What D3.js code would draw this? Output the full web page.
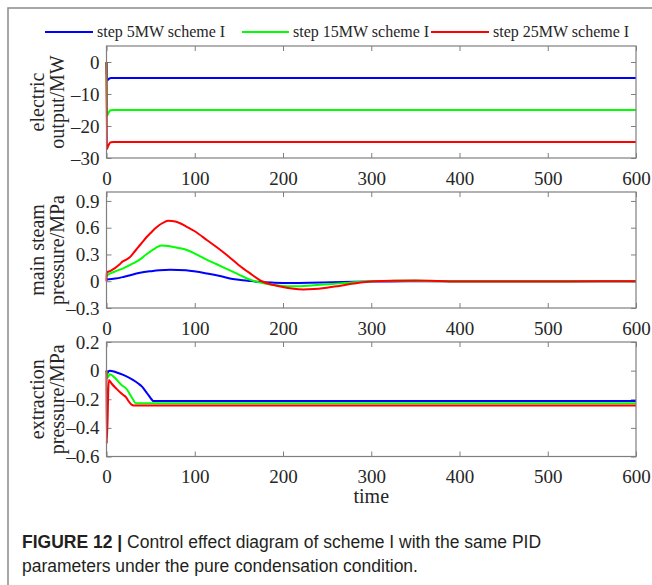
<!DOCTYPE html>
<html>
<head>
<meta charset="utf-8">
<script src="https://cdn.jsdelivr.net/npm/d3@7"></script>
<style>
  body { margin: 0; background: #fff; }
  svg { display: block; }
</style>
</head>
<body>
<script>
// values, [time, value]
var seriesNames = ['step 5MW scheme I', 'step 15MW scheme I', 'step 25MW scheme I'];
var timeTicks = [0, 100, 200, 300, 400, 500, 600];

// electric output / MW
var elecTicks = [-30, -20, -10, 0];
var elec5 = [[0, 0], [0.5, -5.8], [1.5, -5.6], [3, -5.2], [5, -5.0], [600, -5.0]];
var elec15 = [[0, 0], [0.5, -16.8], [1.5, -16.3], [3, -15.5], [5, -15.1], [8, -15], [600, -15]];
var elec25 = [[0, 0], [0.5, -27.2], [1.5, -26.5], [3, -25.6], [5, -25.1], [8, -25], [600, -25]];

// main steam pressure / MPa
var steamTicks = [-0.3, 0, 0.3, 0.6, 0.9];
var steam5 = [[0, 0.02], [10, 0.03], [20, 0.05], [38, 0.094], [50, 0.112], [60, 0.124], [72, 0.13],
  [90, 0.122], [114, 0.086], [130, 0.055], [143, 0.026], [160, 0.006], [171, -0.007], [190, -0.016],
  [209, -0.019], [230, -0.017], [256, -0.011], [280, -0.007], [303, -0.004], [340, 0], [600, 0]];
var steam15 = [[0, 0.06], [2, 0.075], [10, 0.11], [20, 0.15], [30, 0.2], [38, 0.245], [45, 0.3],
  [50, 0.335], [56, 0.375], [62, 0.4], [70, 0.395], [80, 0.375], [91, 0.35], [100, 0.31], [114, 0.24],
  [125, 0.19], [138, 0.13], [150, 0.075], [162, 0.02], [172, -0.01], [185, -0.037], [197, -0.05],
  [209, -0.056], [220, -0.055], [232, -0.048], [256, -0.03], [270, -0.02], [289, -0.007], [310, 0.002],
  [327, 0.006], [350, 0.004], [380, 0], [600, 0]];
var steam25 = [[0, 0], [0.3, 0.1], [3, 0.11], [5, 0.12], [10, 0.15], [15, 0.19], [18, 0.22], [22, 0.24],
  [26, 0.265], [30, 0.31], [35, 0.37], [40, 0.43], [45, 0.49], [50, 0.54], [55, 0.59], [60, 0.63],
  [65, 0.66], [70, 0.677], [78, 0.67], [91, 0.61], [100, 0.56], [114, 0.46], [125, 0.38], [138, 0.28],
  [150, 0.18], [162, 0.093], [176, 0], [188, -0.04], [199, -0.063], [210, -0.082], [223, -0.093],
  [235, -0.088], [247, -0.076], [262, -0.055], [280, -0.026], [303, 0], [325, 0.006], [350, 0.007],
  [375, 0.003], [398, -0.004], [450, -0.004], [520, -0.002], [600, 0]];

// extraction pressure / MPa
var extrTicks = [-0.6, -0.4, -0.2, 0, 0.2];
var extr5 = [[0, 0], [1, -0.02], [2, -0.007], [4, 0], [10, -0.01], [19, -0.03], [30, -0.065],
  [36, -0.09], [40, -0.11], [45, -0.15], [48, -0.175], [51, -0.2], [53, -0.213], [600, -0.213]];
var extr15 = [[0, 0], [1, -0.05], [3.8, -0.025], [9.5, -0.05], [17, -0.1], [23, -0.13], [26.5, -0.165],
  [30, -0.2], [33, -0.228], [600, -0.228]];
var extr25 = [[0, 0], [0.3, -0.51], [2.6, -0.065], [5.7, -0.09], [11, -0.125], [16, -0.155], [19, -0.17],
  [22, -0.185], [24.6, -0.21], [28.4, -0.238], [31, -0.244], [600, -0.244]];

var colors = ['#0000ff', '#00ff00', '#ff0000'];

var width = 652;
var height = 585;
var axisGray = '#7f7f7f';
var textColor = '#262626';
var serif = '"Liberation Serif", "Times New Roman", serif';

// the exported figure draws negatives with a dash wider than a hyphen
function tickText(d) {
  return String(d).replace('-', '\u2013');
}

var svg = d3.select('body').append('svg')
  .attr('width', width)
  .attr('height', height);

svg.append('rect').attr('width', width).attr('height', height).attr('fill', '#fff');

// frame of the figure page
svg.append('path')
  .attr('d', 'M8,' + height + 'V8H' + width)
  .attr('fill', 'none')
  .attr('stroke', '#8a8a8a')
  .attr('stroke-width', 1.5);

var x = d3.scaleLinear().domain([0, 600]).range([106.5, 636]);

var panels = [
  { top: 46, bottom: 158, domain: [-30, 5], ticks: elecTicks, label: ['electric', 'output/MW'],
    series: [elec5, elec15, elec25], xLabelY: 27 },
  { top: 192, bottom: 308, domain: [-0.3, 1.0], ticks: steamTicks, label: ['main steam', 'pressure/MPa'],
    series: [steam5, steam15, steam25], xLabelY: 27 },
  { top: 342, bottom: 456.5, domain: [-0.6, 0.2], ticks: extrTicks, label: ['extraction', 'pressure/MPa'],
    series: [extr5, extr15, extr25], xLabelY: 26 }
];

function styleAxis(g) {
  g.select('.domain').remove();
  g.selectAll('.tick line').attr('stroke', axisGray).attr('stroke-width', 1);
  g.selectAll('.tick text')
    .attr('fill', textColor)
    .style('font-family', serif)
    .style('font-size', '19px');
}

panels.forEach(function (p) {
  var y = d3.scaleLinear().domain(p.domain).range([p.bottom, p.top]);
  var g = svg.append('g');

  g.append('g')
    .attr('transform', 'translate(' + x.range()[0] + ',0)')
    .call(d3.axisLeft(y).tickValues(p.ticks).tickSize(-5).tickPadding(7).tickFormat(tickText))
    .call(styleAxis);

  g.append('g')
    .attr('transform', 'translate(' + x.range()[1] + ',0)')
    .call(d3.axisRight(y).tickValues(p.ticks).tickSize(-5).tickFormat(''))
    .call(styleAxis);

  g.append('g')
    .attr('transform', 'translate(0,' + p.bottom + ')')
    .call(d3.axisBottom(x).tickValues(timeTicks).tickSize(-5).tickPadding(p.xLabelY - 13)
      .tickFormat(d3.format('d')))
    .call(styleAxis);

  g.append('g')
    .attr('transform', 'translate(0,' + p.top + ')')
    .call(d3.axisTop(x).tickValues(timeTicks).tickSize(-5).tickFormat(''))
    .call(styleAxis);

  var line = d3.line()
    .x(function (d) { return x(d[0]); })
    .y(function (d) { return y(d[1]); })
    .curve(d3.curveMonotoneX);

  p.series.forEach(function (s, i) {
    g.append('path')
      .datum(s)
      .attr('d', line)
      .attr('fill', 'none')
      .attr('stroke', colors[i])
      .attr('stroke-width', 2)
      .attr('stroke-linejoin', 'round');
  });

  g.append('rect')
    .attr('x', x.range()[0])
    .attr('y', p.top)
    .attr('width', x.range()[1] - x.range()[0])
    .attr('height', p.bottom - p.top)
    .attr('fill', 'none')
    .attr('stroke', axisGray)
    .attr('stroke-width', 1.2);

  var midY = (p.top + p.bottom) / 2;
  p.label.forEach(function (txt, i) {
    g.append('text')
      .attr('transform', 'translate(' + (44 + i * 20) + ',' + midY + ') rotate(-90)')
      .attr('text-anchor', 'middle')
      .attr('fill', textColor)
      .style('font-family', serif)
      .style('font-size', '20px')
      .text(txt);
  });
});

svg.append('text')
  .attr('x', (x.range()[0] + x.range()[1]) / 2)
  .attr('y', 503)
  .attr('text-anchor', 'middle')
  .attr('fill', textColor)
  .style('font-family', serif)
  .style('font-size', '20px')
  .text('time');

// legend above the first panel
var legendX = [[45, 93], [242, 289], [431, 489]];
var legend = svg.append('g');
seriesNames.forEach(function (name, i) {
  legend.append('line')
    .attr('x1', legendX[i][0]).attr('x2', legendX[i][1])
    .attr('y1', 32).attr('y2', 32)
    .attr('stroke', colors[i])
    .attr('stroke-width', 2);
  legend.append('text')
    .attr('x', legendX[i][1] + 4)
    .attr('y', 37)
    .attr('fill', textColor)
    .style('font-family', serif)
    .style('font-size', '16px')
    .text(name);
});

// caption
var cap = svg.append('text')
  .attr('x', 22)
  .attr('y', 548)
  .attr('fill', '#231f20')
  .style('font-family', '"Liberation Sans", Arial, sans-serif')
  .style('font-size', '17.5px');
cap.append('tspan').style('font-weight', 'bold').text('FIGURE 12 | ');
cap.append('tspan').text('Control effect diagram of scheme I with the same PID');

svg.append('text')
  .attr('x', 22)
  .attr('y', 572)
  .attr('fill', '#231f20')
  .style('font-family', '"Liberation Sans", Arial, sans-serif')
  .style('font-size', '17.5px')
  .text('parameters under the pure condensation condition.');
</script>
</body>
</html>
